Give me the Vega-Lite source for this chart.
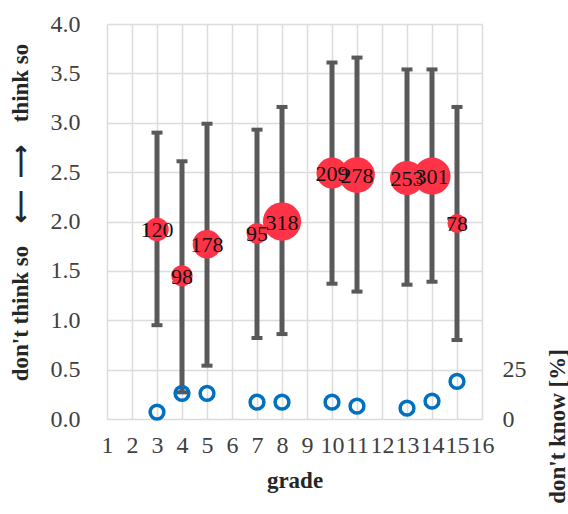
{
  "$schema": "https://vega.github.io/schema/vega-lite/v6.json",
  "width": 375,
  "height": 395,
  "autosize": {"type": "none"},
  "padding": {"left": 107, "top": 24, "right": 86, "bottom": 95},
  "background": "white",
  "config": {
    "view": {"stroke": null},
    "font": "Liberation Serif",
    "axis": {
      "labelFont": "Liberation Serif",
      "labelFontSize": 24,
      "labelColor": "#404040",
      "labelOverlap": false,
      "labelFlush": false,
      "titleFont": "Liberation Serif",
      "titleFontSize": 23,
      "titleFontWeight": "bold",
      "titleColor": "#262626",
      "gridColor": "#dcdcdc",
      "gridWidth": 1.5,
      "domain": false,
      "ticks": false,
      "tickSize": 0
    }
  },
  "data": {
    "values": [
      {"grade": 3, "mean": 1.92, "low": 0.95, "high": 2.9, "n": 120, "dk": 3.5},
      {"grade": 4, "mean": 1.45, "low": 0.27, "high": 2.61, "n": 98, "dk": 13},
      {"grade": 5, "mean": 1.77, "low": 0.54, "high": 2.99, "n": 178, "dk": 13},
      {"grade": 7, "mean": 1.88, "low": 0.82, "high": 2.93, "n": 95, "dk": 8.5},
      {"grade": 8, "mean": 2.0, "low": 0.86, "high": 3.16, "n": 318, "dk": 8.5},
      {"grade": 10, "mean": 2.49, "low": 1.37, "high": 3.61, "n": 209, "dk": 8.5},
      {"grade": 11, "mean": 2.47, "low": 1.29, "high": 3.66, "n": 278, "dk": 6.5},
      {"grade": 13, "mean": 2.44, "low": 1.36, "high": 3.54, "n": 253, "dk": 5.5},
      {"grade": 14, "mean": 2.46, "low": 1.39, "high": 3.54, "n": 301, "dk": 9},
      {"grade": 15, "mean": 1.98, "low": 0.8, "high": 3.16, "n": 78, "dk": 19}
    ]
  },
  "encoding": {
    "x": {
      "field": "grade",
      "type": "quantitative",
      "scale": {"domain": [1, 16], "nice": false, "zero": false},
      "axis": {
        "values": [1, 2, 3, 4, 5, 6, 7, 8, 9, 10, 11, 12, 13, 14, 15, 16],
        "grid": true,
        "labelPadding": 14,
        "title": "grade",
        "titleY": 68,
        "titleBaseline": "alphabetic"
      }
    }
  },
  "layer": [
    {
      "layer": [
        {
          "mark": {"type": "rule", "color": "#595959", "strokeWidth": 5},
          "encoding": {
            "y": {"field": "low", "type": "quantitative", "scale": {"domain": [0, 4], "nice": false},
              "axis": {"orient": "left", "values": [0, 0.5, 1, 1.5, 2, 2.5, 3, 3.5, 4], "format": ".1f", "grid": true, "labelPadding": 27,
                "title": "don't think so\u2003⟵\u2002⟶\u2003think so", "titleAngle": 270, "titleX": -87, "titleY": 188, "titleAlign": "center", "titleBaseline": "middle"}},
            "y2": {"field": "high"}
          }
        },
        {
          "mark": {"type": "tick", "orient": "horizontal", "color": "#595959", "size": 11, "thickness": 4, "opacity": 1},
          "encoding": {
            "y": {"field": "low", "type": "quantitative", "scale": {"domain": [0, 4], "nice": false},
              "axis": {"orient": "left", "values": [0, 0.5, 1, 1.5, 2, 2.5, 3, 3.5, 4], "format": ".1f", "grid": true, "labelPadding": 27,
                "title": "don't think so\u2003⟵\u2002⟶\u2003think so", "titleAngle": 270, "titleX": -87, "titleY": 188, "titleAlign": "center", "titleBaseline": "middle"}}
          }
        },
        {
          "mark": {"type": "tick", "orient": "horizontal", "color": "#595959", "size": 11, "thickness": 4, "opacity": 1},
          "encoding": {
            "y": {"field": "high", "type": "quantitative", "scale": {"domain": [0, 4], "nice": false},
              "axis": {"orient": "left", "values": [0, 0.5, 1, 1.5, 2, 2.5, 3, 3.5, 4], "format": ".1f", "grid": true, "labelPadding": 27,
                "title": "don't think so\u2003⟵\u2002⟶\u2003think so", "titleAngle": 270, "titleX": -87, "titleY": 188, "titleAlign": "center", "titleBaseline": "middle"}}
          }
        },
        {
          "mark": {"type": "circle", "color": "#ff3347", "opacity": 1},
          "encoding": {
            "y": {"field": "mean", "type": "quantitative", "scale": {"domain": [0, 4], "nice": false},
              "axis": {"orient": "left", "values": [0, 0.5, 1, 1.5, 2, 2.5, 3, 3.5, 4], "format": ".1f", "grid": true, "labelPadding": 27,
                "title": "don't think so\u2003⟵\u2002⟶\u2003think so", "titleAngle": 270, "titleX": -87, "titleY": 188, "titleAlign": "center", "titleBaseline": "middle"}},
            "size": {"field": "n", "type": "quantitative", "scale": {"domain": [0, 318], "range": [0, 1463]}, "legend": null}
          }
        },
        {
          "mark": {"type": "text", "font": "Liberation Serif", "fontSize": 22, "color": "#111111", "align": "center", "baseline": "middle", "dy": 1},
          "encoding": {
            "y": {"field": "mean", "type": "quantitative", "scale": {"domain": [0, 4], "nice": false},
              "axis": {"orient": "left", "values": [0, 0.5, 1, 1.5, 2, 2.5, 3, 3.5, 4], "format": ".1f", "grid": true, "labelPadding": 27,
                "title": "don't think so\u2003⟵\u2002⟶\u2003think so", "titleAngle": 270, "titleX": -87, "titleY": 188, "titleAlign": "center", "titleBaseline": "middle"}},
            "text": {"field": "n", "type": "nominal"}
          }
        }
      ]
    },
    {
      "mark": {"type": "point", "shape": "circle", "filled": false, "color": "#0070c0", "strokeWidth": 3.5, "size": 190, "opacity": 1},
      "encoding": {
        "y": {"field": "dk", "type": "quantitative", "scale": {"domain": [0, 200], "nice": false},
          "axis": {"orient": "right", "values": [0, 25], "grid": false, "labelPadding": 20,
            "title": "don't know [%]", "titleAngle": 270, "titleX": 75, "titleY": 402, "titleAlign": "center", "titleBaseline": "middle"}}
      }
    }
  ],
  "resolve": {"scale": {"y": "independent"}, "axis": {"y": "independent"}}
}
